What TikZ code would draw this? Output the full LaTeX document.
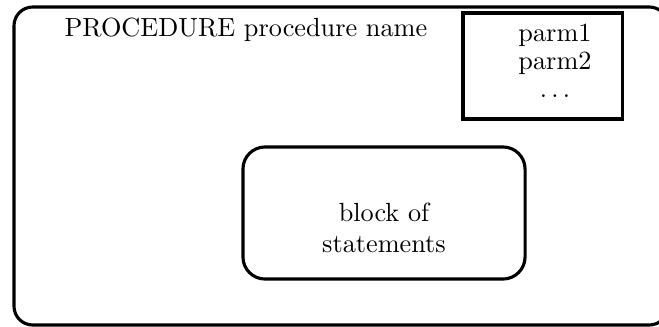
\documentclass[tikz,border=0pt]{standalone}
\begin{document}
\begin{tikzpicture}[
    x=0.3846pt, y=-0.3846pt,
    every node/.style={text=black, font={\fontsize{10.1}{12}\selectfont}},
    frame/.style={draw, line width=1.2pt},
    outerbox/.style={frame, rounded corners=7.2pt},
    parmbox/.style={frame, minimum width=61.2pt, minimum height=40.8pt, inner sep=0pt},
    blockbox/.style={frame, rounded corners=8.5pt, minimum width=108.5pt, minimum height=50.8pt, inner sep=0pt}
]
    \useasboundingbox (0,0) rectangle (659,326);

    % ==========================
    % OUTER FRAME: the procedure
    % ==========================
    \draw[outerbox] (14,7) rectangle (668,325);
    \node[anchor=base west, inner sep=0pt] (title) at (64,36) {PROCEDURE procedure name};

    % ==========================
    % PARAMETER BOX
    % ==========================
    \node[parmbox] (parms) at (542.5,66) {};
    \node[align=center, font={\fontsize{10.1}{10.8}\selectfont}] (parmlist) at (555,61) {parm1\\parm2\\$\ldots$};

    % ==========================
    % BLOCK OF STATEMENTS
    % ==========================
    \node[blockbox] (block) at (384,213) {};
    \node[align=center] (stmts) at (384,228) {block of\\statements};

\end{tikzpicture}
\end{document}
